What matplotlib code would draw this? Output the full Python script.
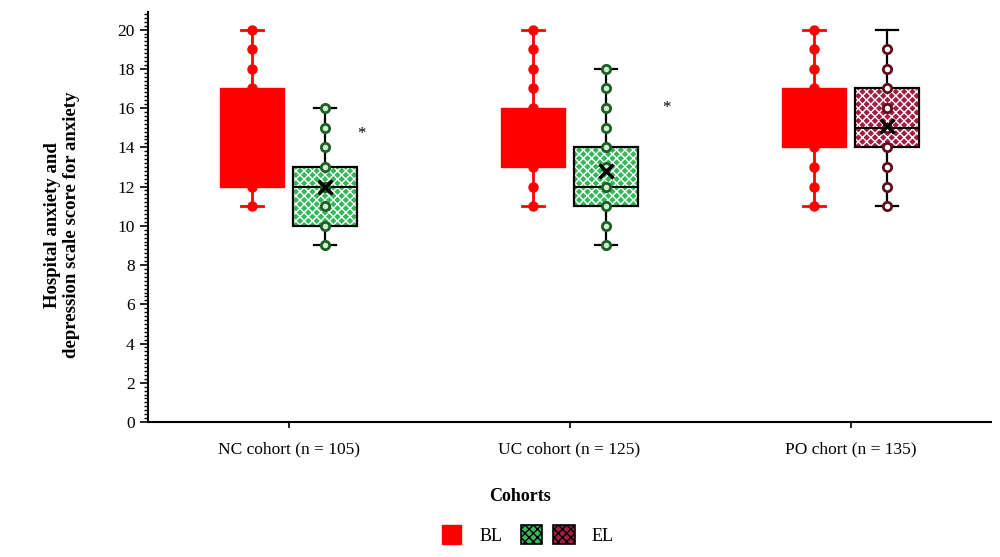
import numpy as np
import matplotlib.pyplot as plt
from matplotlib.patches import Patch
from matplotlib.legend_handler import HandlerTuple
from matplotlib.ticker import MultipleLocator

plt.rcParams['font.family'] = ['Liberation Serif', 'DejaVu Serif']

groups = ["NC cohort (n = 105)", "UC cohort (n = 125)", "PO chort (n = 135)"]

# BL (baseline) box stats
bl_lo = [11, 11, 11]
bl_q1 = [12, 13, 14]
bl_med = [14, 14, 15]
bl_q3 = [17, 16, 17]
bl_hi = [20, 20, 20]
bl_points = [[11, 12, 17, 18, 19, 20],
             [11, 12, 13, 16, 17, 18, 19, 20],
             [11, 12, 13, 14, 17, 18, 19, 20]]

# EL (end line) box stats
el_lo = [9, 9, 11]
el_q1 = [10, 11, 14]
el_med = [12, 12, 15]
el_q3 = [13, 14, 17]
el_hi = [16, 18, 20]
el_mean = [12.0, 12.8, 15.1]
el_points = [[9, 10, 11, 12, 13, 14, 15, 16],
             [9, 10, 11, 12, 13, 14, 15, 16, 17, 18],
             [11, 12, 13, 14, 15, 16, 17, 18, 19]]

# significance stars (group index + offset, value)
star_x = [0.26, 1.345]
star_y = [14.7, 16.0]

red = '#ff0000'
green = '#35b85a'
maroon = '#a31c42'
el_fill = [green, green, maroon]
el_dot_edge = ['#1d5e27', '#1d5e27', '#5e0f1e']
el_dot_face = ['#cfeecf', '#cfeecf', '#ffffff']
hatch = 'xxxx'

fig = plt.figure(figsize=(10, 5.57), dpi=100)
ax = fig.add_axes([0.148, 0.2424, 0.843, 0.7361])

x = np.arange(len(groups))
off = 0.13
w = 0.23
cap = 0.04

for i in x:
    xb = i - off
    xe = i + off
    # BL
    ax.plot([xb, xb], [bl_lo[i], bl_hi[i]], color=red, lw=2, zorder=1)
    ax.plot([xb - cap, xb + cap], [bl_lo[i]] * 2, color=red, lw=2, zorder=1)
    ax.plot([xb - cap, xb + cap], [bl_hi[i]] * 2, color=red, lw=2, zorder=1)
    ax.bar(xb, bl_q3[i] - bl_q1[i], bottom=bl_q1[i], width=w, color=red,
           edgecolor=red, zorder=2)
    ax.plot([xb] * len(bl_points[i]), bl_points[i], 'o', color=red, ms=6.5, zorder=3)
    # EL
    ax.plot([xe, xe], [el_lo[i], el_hi[i]], color='black', lw=1.6, zorder=1)
    ax.plot([xe - cap, xe + cap], [el_lo[i]] * 2, color='black', lw=1.6, zorder=1)
    ax.plot([xe - cap, xe + cap], [el_hi[i]] * 2, color='black', lw=1.6, zorder=1)
    ax.bar(xe, el_q3[i] - el_q1[i], bottom=el_q1[i], width=w, color=el_fill[i],
           edgecolor='white', hatch=hatch, lw=0, zorder=2)
    ax.bar(xe, el_q3[i] - el_q1[i], bottom=el_q1[i], width=w, fill=False,
           edgecolor='black', lw=1.6, zorder=2.5)
    ax.plot([xe - w / 2, xe + w / 2], [el_med[i]] * 2, color='black', lw=1.4, zorder=2.6)
    ax.plot([xe] * len(el_points[i]), el_points[i], 'o', mfc=el_dot_face[i],
            mec=el_dot_edge[i], mew=2, ms=6, zorder=3)
    ax.plot(xe, el_mean[i], 'x', color='black', ms=10, mew=2.5, zorder=4)

for sx, sy in zip(star_x, star_y):
    ax.text(sx, sy, '*', ha='center', va='center', fontsize=12)

ax.set_xlim(-0.5, 2.5)
ax.set_ylim(0, 20.9)
ax.set_xticks(x)
ax.set_xticklabels(groups, fontsize=12.5)
ax.set_yticks(np.arange(0, 21, 2))
ax.yaxis.set_minor_locator(MultipleLocator(0.2))
ax.tick_params(axis='y', labelsize=12.5, length=6, width=1.2)
ax.tick_params(axis='y', which='minor', length=3, width=1)
ax.tick_params(axis='x', length=4, width=1.2, pad=10)
for s in ['top', 'right']:
    ax.spines[s].set_visible(False)
for s in ['left', 'bottom']:
    ax.spines[s].set_linewidth(1.5)

fig.text(0.062, 0.596, "Hospital anxiety and\ndepression scale score for anxiety",
         rotation=90, ha='center', va='center', fontsize=13.5, fontweight='bold',
         linespacing=1.1)
fig.text(0.52, 0.109, "Cohorts", ha='center', va='center', fontsize=13, fontweight='bold')

h_bl = Patch(facecolor=red, edgecolor=red)
h_g = Patch(facecolor=green, edgecolor='black', hatch=hatch, lw=1.2)
h_m = Patch(facecolor=maroon, edgecolor='black', hatch=hatch, lw=1.2)
leg1 = fig.legend([h_bl], ['BL'], loc='center', bbox_to_anchor=(0.472, 0.04),
                  frameon=False, fontsize=13, handlelength=1.1, handleheight=1.3,
                  handletextpad=1.0)
fig.legend([(h_g, h_m)], ['EL'], loc='center', bbox_to_anchor=(0.567, 0.04),
           handler_map={tuple: HandlerTuple(ndivide=None, pad=0.6)},
           frameon=False, fontsize=13, handlelength=3.0, handleheight=1.3,
           handletextpad=0.9)

fig.savefig('out.png')
